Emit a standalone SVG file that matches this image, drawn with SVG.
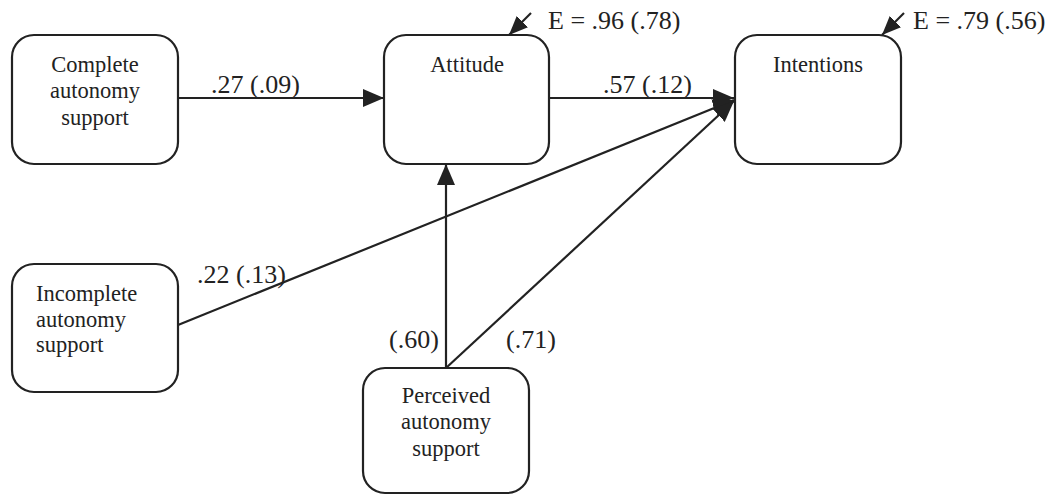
<svg xmlns="http://www.w3.org/2000/svg" width="1058" height="495" viewBox="0 0 1058 495">
<style>
.box{fill:#fff;stroke:#222;stroke-width:2.2}
.nt{font-family:"Liberation Serif","Times New Roman",Times,"DejaVu Serif",serif;font-size:22.5px;fill:#222}
.lb{font-family:"Liberation Serif","Times New Roman",Times,"DejaVu Serif",serif;font-size:26px;fill:#222}
.ln{stroke:#222;stroke-width:2.2;fill:none}
</style>
<defs>
<marker id="ah" markerUnits="userSpaceOnUse" markerWidth="22" markerHeight="20" refX="21" refY="10" orient="auto">
<path d="M0,1 L21,10 L0,19 z" fill="#222"/>
</marker>
<marker id="ahs" markerUnits="userSpaceOnUse" markerWidth="20" markerHeight="18" refX="19" refY="9" orient="auto">
<path d="M0,1 L19,9 L0,17 z" fill="#222"/>
</marker>
</defs>
<rect width="1058" height="495" fill="#fff"/>
<g id="connectors">
<line class="ln" x1="178" y1="98" x2="384" y2="98" marker-end="url(#ah)"/>
<line class="ln" x1="549" y1="98" x2="734" y2="98" marker-end="url(#ah)"/>
<line class="ln" x1="178" y1="325" x2="734" y2="100" marker-end="url(#ah)"/>
<line class="ln" x1="446" y1="368" x2="734" y2="101" marker-end="url(#ah)"/>
<line class="ln" x1="446" y1="368" x2="446" y2="164" marker-end="url(#ah)"/>
<line class="ln" x1="531" y1="13" x2="509" y2="35" marker-end="url(#ahs)"/>
<line class="ln" x1="904" y1="13" x2="882" y2="35" marker-end="url(#ahs)"/>
<text class="lb" x="211" y="93">.27 (.09)</text>
<text class="lb" x="603" y="93">.57 (.12)</text>
<text class="lb" x="197" y="283">.22 (.13)</text>
<text class="lb" x="389" y="348">(.60)</text>
<text class="lb" x="506" y="348">(.71)</text>
<text class="lb" x="548" y="29">E = .96 (.78)</text>
<text class="lb" x="913" y="29">E = .79 (.56)</text>
</g>
<g id="complete">
<rect class="box" x="12" y="35" width="166" height="129" rx="22"/>
<text class="nt" text-anchor="middle" x="95" y="72">Complete</text>
<text class="nt" text-anchor="middle" x="95" y="98">autonomy</text>
<text class="nt" text-anchor="middle" x="95" y="125">support</text>
</g>
<g id="attitude">
<rect class="box" x="384" y="35" width="165" height="129" rx="22"/>
<text class="nt" text-anchor="middle" x="467" y="72">Attitude</text>
</g>
<g id="intentions">
<rect class="box" x="735" y="35" width="166" height="129" rx="22"/>
<text class="nt" text-anchor="middle" x="818" y="72">Intentions</text>
</g>
<g id="incomplete">
<rect class="box" x="12" y="264" width="166" height="128" rx="22"/>
<text class="nt" x="36" y="301">Incomplete</text>
<text class="nt" x="36" y="327">autonomy</text>
<text class="nt" x="36" y="352">support</text>
</g>
<g id="perceived">
<rect class="box" x="363" y="368" width="166" height="125" rx="22"/>
<text class="nt" text-anchor="middle" x="446" y="403">Perceived</text>
<text class="nt" text-anchor="middle" x="446" y="429">autonomy</text>
<text class="nt" text-anchor="middle" x="446" y="456">support</text>
</g>
</svg>
